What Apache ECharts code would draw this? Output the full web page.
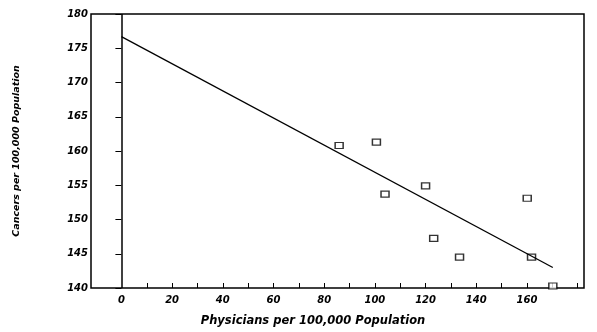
<!DOCTYPE html>
<html><head><meta charset="utf-8">
<script src="https://cdn.jsdelivr.net/npm/echarts@6/dist/echarts.min.js"></script>
<style>html,body{margin:0;padding:0;background:#fff}#c{width:597px;height:332px}</style>
</head><body><div id="c"></div>
<script>
const physicians = [85.9, 100.6, 104.0, 120.0, 123.2, 133.4, 160.1, 161.8, 170.2];
const cancers    = [160.8, 161.3, 153.7, 154.9, 147.25, 144.5, 153.1, 144.5, 140.3];
const fitX = [0, 170.2];
const fitY = [176.7, 143.0];
const xTickValues = [10,20,30,40,50,60,70,80,90,100,110,120,130,140,150,160,170,180];
const xLabelValues = [0,20,40,60,80,100,120,140,160];
const yTicks = [140,145,150,155,160,165,170,175,180];

const font = 'DejaVu Sans';
const chart = echarts.init(document.getElementById('c'));
chart.setOption({
  animation: false,
  backgroundColor: '#fff',
  grid: {left: 91, right: 13, top: 14, bottom: 44, show: true, borderColor: '#000', borderWidth: 1.5, backgroundColor: 'transparent'},
  xAxis: {
    type: 'value', min: -12, max: 182.5,
    name: 'Physicians per 100,000 Population', nameLocation: 'middle', nameGap: 27,
    nameTextStyle: {fontFamily: font, fontStyle: 'italic', fontWeight: 'bold', fontSize: 11.5, color: '#000', padding: [0,49,0,0]},
    axisLine: {show: false},
    splitLine: {show: false},
    axisTick: {show: true, inside: true, length: 5, customValues: xTickValues, lineStyle: {color: '#000', width: 1}},
    axisLabel: {customValues: xLabelValues, margin: 7, fontFamily: font, fontStyle: 'italic', fontWeight: 'bold', fontSize: 10, color: '#000'}
  },
  yAxis: {
    type: 'value', min: 140, max: 180, interval: 5,
    name: 'Cancers per 100,000 Population', nameLocation: 'middle', nameGap: 69,
    nameTextStyle: {fontFamily: font, fontStyle: 'italic', fontWeight: 'bold', fontSize: 9.5, color: '#000'},
    axisLine: {show: false},
    splitLine: {show: false},
    axisTick: {show: true, length: 6, lineStyle: {color: '#000', width: 1}},
    axisLabel: {margin: 3, fontFamily: font, fontStyle: 'italic', fontWeight: 'bold', fontSize: 10, color: '#000',
      customValues: yTicks}
  },
  series: [
    {
      type: 'line', data: fitX.map((x, i) => [x, fitY[i]]), showSymbol: false,
      lineStyle: {color: '#000', width: 1.3}, silent: true,
      markLine: {symbol: 'none', silent: true, label: {show: false},
        lineStyle: {color: '#000', width: 1.5, type: 'solid'}, data: [{xAxis: 0}]}
    },
    {
      type: 'scatter', data: physicians.map((x, i) => [x, cancers[i]]),
      symbol: 'rect', symbolSize: [8, 6],
      itemStyle: {color: '#fff', borderColor: '#000', borderWidth: 1.3}
    }
  ]
});
</script></body></html>
